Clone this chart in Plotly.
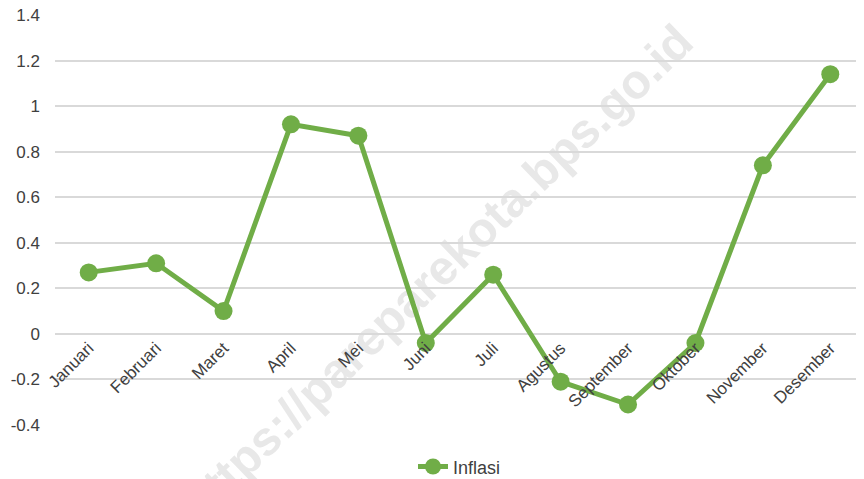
import plotly.graph_objects as go

months = ["Januari", "Februari", "Maret", "April", "Mei", "Juni", "Juli",
          "Agustus", "September", "Oktober", "November", "Desember"]
inflasi = [0.27, 0.31, 0.10, 0.92, 0.87, -0.04, 0.26, -0.21, -0.31, -0.04, 0.74, 1.14]
y_ticks = [-0.4, -0.2, 0, 0.2, 0.4, 0.6, 0.8, 1, 1.2, 1.4]
y_tick_text = ["-0.4", "-0.2", "0", "0.2", "0.4", "0.6", "0.8", "1", "1.2", "1.4"]
watermark = "https://pareparekota.bps.go.id"

green = "#70AD47"
fig = go.Figure()
fig.add_trace(go.Scatter(
    x=months, y=inflasi, mode="lines+markers", name="Inflasi",
    line=dict(color=green, width=5),
    marker=dict(color=green, size=18),
))

ymin, ymax = -0.4, 1.4
fig.update_layout(
    width=856, height=471,
    margin=dict(l=47, r=0, t=7, b=54, autoexpand=False),
    paper_bgcolor="white", plot_bgcolor="white",
    font=dict(family="Liberation Sans, Arial, sans-serif", color="#404040", size=18),
    showlegend=True,
    legend=dict(orientation="h", x=0.5, xanchor="center", y=-0.102, yanchor="middle",
                font=dict(size=18, color="#404040")),
    xaxis=dict(
        type="category", anchor="free", position=(0 - ymin) / (ymax - ymin),
        showgrid=False, showline=False, zeroline=False, automargin=False,
        tickangle=-45, tickfont=dict(size=17, color="#404040"),
        ticks="", range=[-0.5, 11.5], ticklabeloverflow="allow",
    ),
    yaxis=dict(
        range=[ymin, ymax], tickvals=y_ticks, ticktext=y_tick_text,
        showgrid=True, gridcolor="#d9d9d9", gridwidth=2, automargin=False,
        zeroline=False, showline=False, ticks="", ticklabeloverflow="allow",
        ticklabelstandoff=14, tickfont=dict(size=17, color="#404040"),
    ),
    shapes=[dict(
        type="line", xref="paper", yref="paper", layer="below",
        x0=0.180, y0=-0.264, x1=0.801, y1=0.919,
        line=dict(width=0, color="rgba(0,0,0,0)"),
        label=dict(text=watermark, textposition="middle", textangle=-44,
                   font=dict(size=48, color="#e8e8e8", weight="bold",
                             family="Liberation Sans, Arial, sans-serif")),
    )],
)

fig.write_html("out.html")
